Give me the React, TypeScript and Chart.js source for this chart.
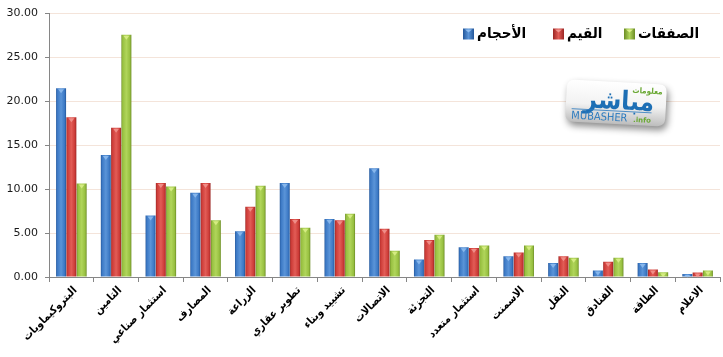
import React, { useEffect, useRef } from "react";
import { Chart, registerables } from "chart.js";

Chart.register(...registerables);

const categories = [
  "البتروكيماويات",
  "التامين",
  "استثمار صناعي",
  "المصارف",
  "الزراعة",
  "تطوير عقاري",
  "تشييد وبناء",
  "الاتصالات",
  "التجزئة",
  "استثمار متعدد",
  "الاسمنت",
  "النقل",
  "الفنادق",
  "الطاقة",
  "الاعلام",
];

const seriesLabels = ["الأحجام", "القيم", "الصفقات"];

const volumes = [21.5, 13.9, 7.0, 9.6, 5.2, 10.7, 6.6, 12.4, 2.0, 3.4, 2.35, 1.6, 0.75, 1.6, 0.35];
const valuesSeries = [18.2, 17.0, 10.7, 10.7, 8.0, 6.6, 6.45, 5.5, 4.2, 3.3, 2.8, 2.35, 1.75, 0.85, 0.5];
const deals = [10.65, 27.6, 10.3, 6.45, 10.4, 5.6, 7.2, 3.0, 4.8, 3.6, 3.6, 2.2, 2.2, 0.55, 0.75];

const yMin = 0;
const yMax = 30;
const yStep = 5;

const palettes = [
  { dark: "#24579a", mid: "#3b78c4", light: "#5a94d8", cap: "#8fbdf0" },
  { dark: "#9b2624", mid: "#cc3b37", light: "#e25c56", cap: "#f29690" },
  { dark: "#6b8c25", mid: "#97bf40", light: "#b0d55a", cap: "#dcf08a" },
];

const CAT_PCT = 0.69;
const BAR_PCT = 0.97;
const FONT = "'DejaVu Sans', sans-serif";
const AR_FONT = "'DejaVu Sans Condensed', 'DejaVu Sans', sans-serif";

function barFill(ctx: any) {
  const pal = palettes[ctx.datasetIndex] || palettes[0];
  const chart = ctx.chart;
  const xs = chart.scales && chart.scales.x;
  if (!xs || ctx.type !== "data" || !isFinite(xs.width) || xs.width <= 0) return pal.mid;
  const catW = xs.width / categories.length;
  const slot = (catW * CAT_PCT) / 3;
  const barW = slot * BAR_PCT;
  const cx = xs.getPixelForValue(ctx.dataIndex) + (ctx.datasetIndex - 1) * slot;
  const g = chart.ctx.createLinearGradient(cx - barW / 2, 0, cx + barW / 2, 0);
  g.addColorStop(0, pal.dark);
  g.addColorStop(0.12, pal.mid);
  g.addColorStop(0.5, pal.light);
  g.addColorStop(0.85, pal.mid);
  g.addColorStop(1, pal.dark);
  return g;
}

const capPlugin = {
  id: "caps",
  afterDatasetsDraw(chart: any) {
    const c = chart.ctx;
    chart.data.datasets.forEach((_: any, di: number) => {
      const meta = chart.getDatasetMeta(di);
      const pal = palettes[di];
      meta.data.forEach((el: any) => {
        const w = el.width;
        const h = Math.abs(el.base - el.y);
        const th = Math.min(4, h);
        if (th <= 0.5) return;
        c.save();
        c.fillStyle = pal.cap;
        c.globalAlpha = 0.85;
        c.beginPath();
        c.moveTo(el.x - w / 2 + 2, el.y + 1);
        c.lineTo(el.x + w / 2 - 2, el.y + 1);
        c.lineTo(el.x, el.y + 1 + th);
        c.closePath();
        c.fill();
        c.restore();
      });
    });
  },
};

const legendBoxX = [463, 553, 624];

const legendPlugin = {
  id: "customLegend",
  afterDraw(chart: any) {
    const c = chart.ctx;
    c.save();
    c.font = `bold 15px ${AR_FONT}`;
    c.textBaseline = "middle";
    c.textAlign = "left";
    const box = 11;
    const cy = 34;
    seriesLabels.forEach((label, i) => {
      const x = legendBoxX[i];
      const pal = palettes[i];
      const g = c.createLinearGradient(x, 0, x + box, 0);
      g.addColorStop(0, pal.dark);
      g.addColorStop(0.5, pal.light);
      g.addColorStop(1, pal.dark);
      c.fillStyle = g;
      c.fillRect(x, cy - box / 2, box, box);
      c.fillStyle = pal.cap;
      c.beginPath();
      c.moveTo(x + 2, cy - box / 2 + 1);
      c.lineTo(x + box - 2, cy - box / 2 + 1);
      c.lineTo(x + box / 2, cy - box / 2 + 4);
      c.closePath();
      c.fill();
      c.fillStyle = "#000";
      c.fillText(label, x + box + 3, cy);
    });
    c.restore();
  },
};

const logoPlugin = {
  id: "logo",
  afterDraw(chart: any) {
    const c = chart.ctx;
    c.save();
    c.translate(616, 103);
    c.rotate((3 * Math.PI) / 180);
    const w = 100;
    const h = 42;
    const r = 8;
    c.shadowColor = "rgba(0,0,0,0.45)";
    c.shadowBlur = 7;
    c.shadowOffsetX = 2;
    c.shadowOffsetY = 4;
    const g = c.createLinearGradient(0, -h / 2, 0, h / 2);
    g.addColorStop(0, "#ffffff");
    g.addColorStop(0.55, "#f2f2f2");
    g.addColorStop(1, "#bdbdbd");
    c.fillStyle = g;
    c.beginPath();
    c.moveTo(-w / 2 + r, -h / 2);
    c.lineTo(w / 2 - r, -h / 2);
    c.quadraticCurveTo(w / 2, -h / 2, w / 2, -h / 2 + r);
    c.lineTo(w / 2, h / 2 - r);
    c.quadraticCurveTo(w / 2, h / 2, w / 2 - r, h / 2);
    c.lineTo(-w / 2 + r, h / 2);
    c.quadraticCurveTo(-w / 2, h / 2, -w / 2, h / 2 - r);
    c.lineTo(-w / 2, -h / 2 + r);
    c.quadraticCurveTo(-w / 2, -h / 2, -w / 2 + r, -h / 2);
    c.closePath();
    c.fill();
    c.shadowColor = "transparent";
    c.textBaseline = "alphabetic";
    c.textAlign = "right";
    c.fillStyle = "#6aa834";
    c.font = `bold 8px ${AR_FONT}`;
    c.fillText("معلومات", 46, -11);
    c.fillStyle = "#1d6fb5";
    c.font = `bold 26px ${AR_FONT}`;
    c.fillText("مباشر", 38, 6);
    c.textAlign = "left";
    c.font = `11px ${AR_FONT}`;
    c.fillStyle = "#2c7bbf";
    c.fillText("MUBASHER", -44, 18);
    c.fillStyle = "#6aa834";
    c.font = `bold 7px ${FONT}`;
    c.fillText(".info", 18, 18);
    c.strokeStyle = "#2c7bbf";
    c.lineWidth = 0.8;
    c.beginPath();
    c.moveTo(-44, 8);
    c.lineTo(36, 8);
    c.stroke();
    c.restore();
  },
};

export default function App() {
  const ref = useRef<HTMLCanvasElement | null>(null);

  useEffect(() => {
    document.body.style.margin = "0";
    const canvas = ref.current;
    if (!canvas) return;
    const data = [volumes, valuesSeries, deals];
    const chart = new Chart(canvas, {
      type: "bar",
      data: {
        labels: categories,
        datasets: seriesLabels.map((label, i) => ({
          label,
          data: data[i],
          backgroundColor: barFill,
          borderWidth: 0,
          categoryPercentage: CAT_PCT,
          barPercentage: BAR_PCT,
        })),
      },
      options: {
        responsive: false,
        animation: false,
        devicePixelRatio: 1,
        layout: { padding: { top: 13, right: 3, left: 0, bottom: 0 } },
        plugins: {
          legend: { display: false },
          tooltip: { enabled: false },
        },
        scales: {
          x: {
            offset: true,
            grid: {
              offset: true,
              drawOnChartArea: false,
              drawTicks: true,
              tickLength: 5,
              tickColor: "#868686",
            },
            border: { color: "#868686", width: 1 },
            ticks: {
              autoSkip: false,
              minRotation: 45,
              maxRotation: 45,
              padding: 2,
              labelOffset: 4,
              color: "#000",
              font: { family: AR_FONT, size: 11, weight: "bold" },
            },
            afterFit: (s: any) => {
              s.height = 80;
            },
          },
          y: {
            min: yMin,
            max: yMax,
            ticks: {
              stepSize: yStep,
              padding: 7,
              color: "#1a1a1a",
              font: { family: FONT, size: 11 },
              callback: (v: any) => Number(v).toFixed(2),
            },
            grid: {
              color: "#f4e4da",
              tickColor: "#868686",
              tickLength: 4,
              drawTicks: true,
            },
            border: { color: "#868686", width: 1 },
            afterFit: (s: any) => {
              s.width = 49;
            },
          },
        },
      },
      plugins: [capPlugin, legendPlugin, logoPlugin],
    });
    return () => chart.destroy();
  }, []);

  return (
    <div style={{ width: 723, height: 357, position: "relative", background: "#fff" }}>
      <canvas ref={ref} width={723} height={357} style={{ width: 723, height: 357, display: "block" }} />
    </div>
  );
}
